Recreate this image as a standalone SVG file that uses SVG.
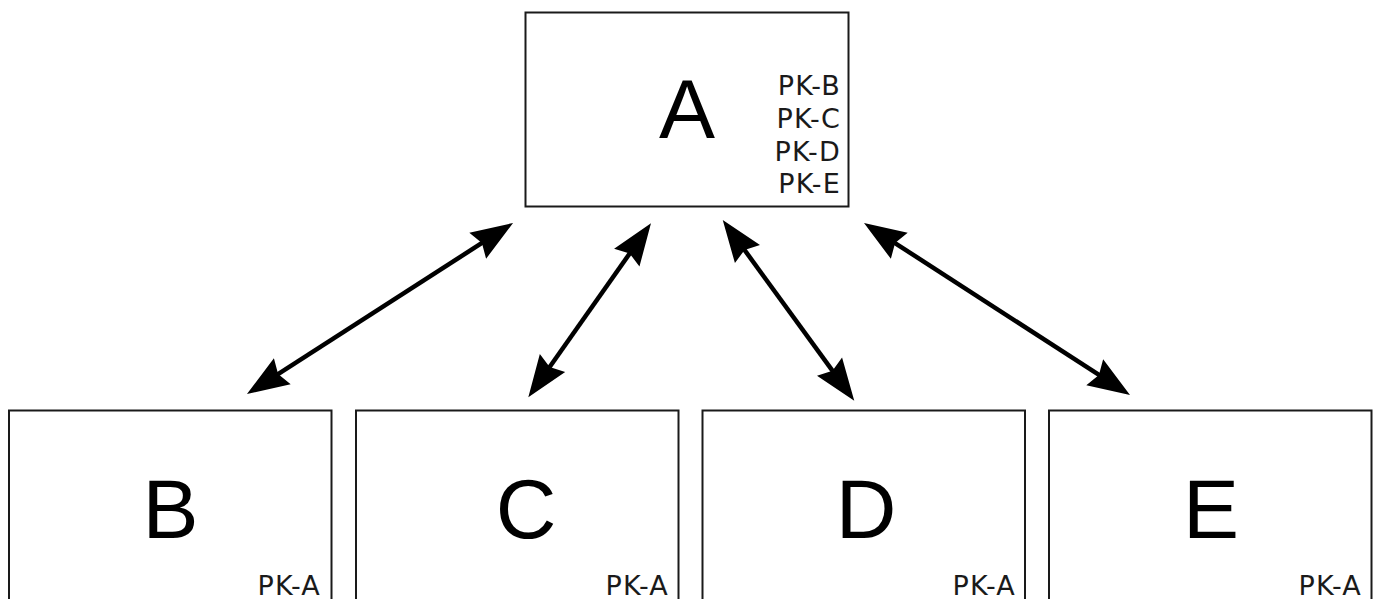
<svg xmlns="http://www.w3.org/2000/svg" width="1379" height="599" viewBox="0 0 1379 599">
<style>
.box{fill:#fff;stroke:#1a1a1a;stroke-width:2}
.big{font-family:"Liberation Sans",Arial,sans-serif;font-size:84px;fill:#000;text-anchor:middle}
.pk{font-family:"DejaVu Sans",Verdana,sans-serif;font-size:27px;letter-spacing:1.2px;fill:#1a1a1a;text-anchor:end}
.conn{stroke:#000;stroke-width:4.5;fill:none;marker-start:url(#ah);marker-end:url(#ah)}
</style>
<defs>
<marker id="ah" markerUnits="userSpaceOnUse" orient="auto-start-reverse" markerWidth="80" markerHeight="80" viewBox="-40 -40 80 80" refX="0" refY="0" overflow="visible">
<path d="M30,0 L-12,-15.5 L-7,0 L-12,15.5 Z" fill="#000"/>
</marker>
</defs>
<rect width="1379" height="599" fill="#fff"/>
<g id="connectors">
<line class="conn" x1="272.2" y1="377.8" x2="487.8" y2="239.2"/>
<line class="conn" x1="545.6" y1="372.8" x2="633.7" y2="247.8"/>
<line class="conn" x1="740.4" y1="244.3" x2="836.6" y2="376.4"/>
<line class="conn" x1="889.2" y1="239.3" x2="1104.8" y2="378.7"/>
</g>
<g id="node-A">
<rect class="box" x="525.5" y="12.5" width="323" height="194"/>
<text class="big" x="687" y="138">A</text>
<text class="pk" x="841" y="95">PK-B</text>
<text class="pk" x="841" y="128">PK-C</text>
<text class="pk" x="841" y="161">PK-D</text>
<text class="pk" x="841" y="193">PK-E</text>
</g>
<g id="node-B">
<rect class="box" x="9" y="410.5" width="322.5" height="200"/>
<text class="big" x="170.5" y="538">B</text>
<text class="pk" x="321" y="595">PK-A</text>
</g>
<g id="node-C">
<rect class="box" x="356" y="410.5" width="322.5" height="200"/>
<text class="big" x="526" y="538">C</text>
<text class="pk" x="669" y="595">PK-A</text>
</g>
<g id="node-D">
<rect class="box" x="702.5" y="410.5" width="322.5" height="200"/>
<text class="big" x="866" y="538">D</text>
<text class="pk" x="1016" y="595">PK-A</text>
</g>
<g id="node-E">
<rect class="box" x="1049" y="410.5" width="322.5" height="200"/>
<text class="big" x="1211" y="538">E</text>
<text class="pk" x="1362" y="595">PK-A</text>
</g>
</svg>
